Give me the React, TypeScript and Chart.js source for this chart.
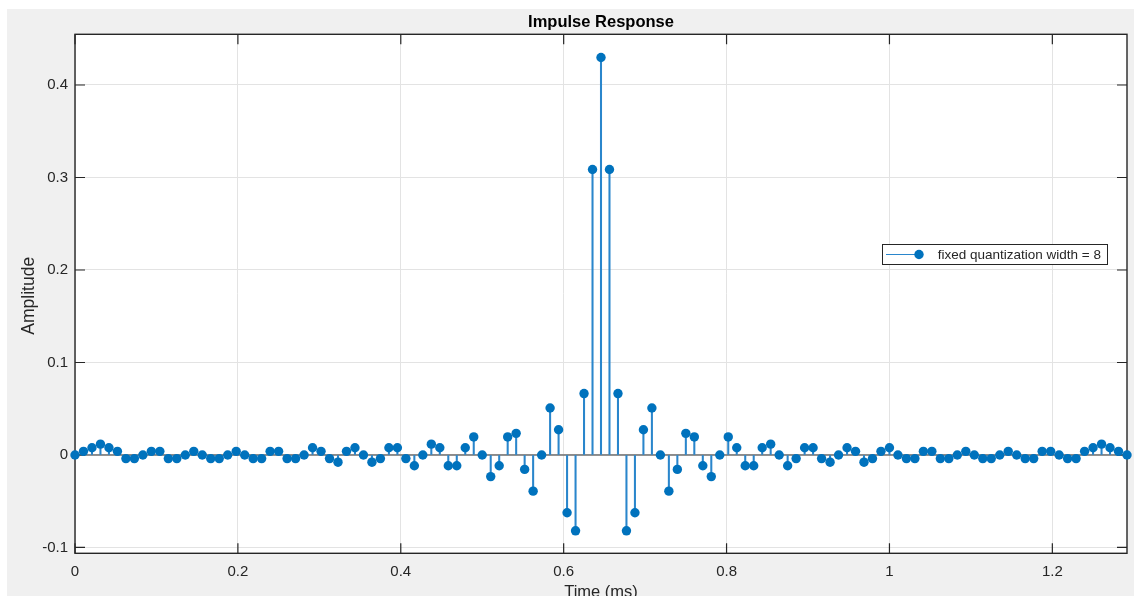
import React, { useEffect, useRef } from "react";
import { Chart, registerables } from "chart.js";

Chart.register(...registerables);

// Sample rate (kHz) -> time axis in ms
const SAMPLE_RATE_KHZ = 96;

// Impulse response amplitudes (quantized filter coefficients), 125 taps
const amplitudes: number[] = [
  0, 0.0039, 0.0078, 0.0117, 0.0078, 0.0039, -0.0039, -0.0039, 0, 0.0039,
  0.0039, -0.0039, -0.0039, 0, 0.0039, 0, -0.0039, -0.0039, 0, 0.0039,
  0, -0.0039, -0.0039, 0.0039, 0.0039, -0.0039, -0.0039, 0, 0.0078, 0.0039,
  -0.0039, -0.0078, 0.0039, 0.0078, 0, -0.0078, -0.0039, 0.0078, 0.0078, -0.0039,
  -0.0117, 0, 0.0117, 0.0078, -0.0117, -0.0117, 0.0078, 0.0195, 0, -0.0234,
  -0.0117, 0.0195, 0.0234, -0.0156, -0.0391, 0, 0.0508, 0.0273, -0.0625, -0.082,
  0.0664, 0.3086, 0.4297, 0.3086, 0.0664,
  -0.082, -0.0625, 0.0273, 0.0508, 0, -0.0391, -0.0156, 0.0234, 0.0195, -0.0117,
  -0.0234, 0, 0.0195, 0.0078, -0.0117, -0.0117, 0.0078, 0.0117, 0, -0.0117,
  -0.0039, 0.0078, 0.0078, -0.0039, -0.0078, 0, 0.0078, 0.0039, -0.0078, -0.0039,
  0.0039, 0.0078, 0, -0.0039, -0.0039, 0.0039, 0.0039, -0.0039, -0.0039, 0,
  0.0039, 0, -0.0039, -0.0039, 0, 0.0039, 0, -0.0039, -0.0039, 0.0039,
  0.0039, 0, -0.0039, -0.0039, 0.0039, 0.0078, 0.0117, 0.0078, 0.0039, 0,
];

const times: number[] = amplitudes.map((_, i) => i / SAMPLE_RATE_KHZ);

const X_TICKS = [0, 0.2, 0.4, 0.6, 0.8, 1, 1.2];
const Y_TICKS = [-0.1, 0, 0.1, 0.2, 0.3, 0.4];
const X_MIN = 0;
const X_MAX = (amplitudes.length - 1) / SAMPLE_RATE_KHZ;
const Y_MIN = -0.1063;
const Y_MAX = 0.4548;

const TITLE = "Impulse Response";
const X_LABEL = "Time (ms)";
const Y_LABEL = "Amplitude";
const SERIES_LABEL = "fixed quantization width = 8";

const FONT = '"Liberation Sans", Arial, Helvetica, sans-serif';
const BLUE = "#0072BD";
const STEM = "#2a86cc";
const AXIS = "#262626";

const fmt = (v: number) => {
  if (Math.abs(v) < 1e-9) return "0";
  return String(Number(v.toFixed(1)));
};

const decor = {
  id: "decor",
  beforeDraw(chart: any) {
    const { ctx, width, height, chartArea: a } = chart;
    ctx.save();
    ctx.fillStyle = "#f0f0f0";
    ctx.fillRect(0, 0, width, height);
    ctx.fillStyle = "#ffffff";
    ctx.fillRect(a.left, a.top, a.right - a.left, a.bottom - a.top);
    ctx.restore();
  },
  beforeDatasetsDraw(chart: any) {
    const { ctx, chartArea: a, scales } = chart;
    const xs = scales.x;
    const ys = scales.y;
    ctx.save();
    // baseline
    const y0 = ys.getPixelForValue(0);
    ctx.strokeStyle = "#6e6e6e";
    ctx.lineWidth = 1.5;
    ctx.beginPath();
    ctx.moveTo(a.left, y0);
    ctx.lineTo(a.right, y0);
    ctx.stroke();
    // box
    ctx.strokeStyle = AXIS;
    ctx.lineWidth = 1.4;
    ctx.strokeRect(a.left, a.top, a.right - a.left, a.bottom - a.top);
    // ticks
    ctx.lineWidth = 1.2;
    ctx.beginPath();
    const TL = 10;
    X_TICKS.forEach((v) => {
      const px = xs.getPixelForValue(v);
      ctx.moveTo(px, a.bottom);
      ctx.lineTo(px, a.bottom - TL);
      ctx.moveTo(px, a.top);
      ctx.lineTo(px, a.top + TL);
    });
    Y_TICKS.forEach((v) => {
      const py = ys.getPixelForValue(v);
      ctx.moveTo(a.left, py);
      ctx.lineTo(a.left + TL, py);
      ctx.moveTo(a.right, py);
      ctx.lineTo(a.right - TL, py);
    });
    ctx.stroke();
    ctx.restore();
  },
  afterDraw(chart: any) {
    const { ctx, chartArea: a } = chart;
    ctx.save();
    // title
    ctx.fillStyle = "#000";
    ctx.font = `bold 16.5px ${FONT}`;
    ctx.textAlign = "center";
    ctx.textBaseline = "alphabetic";
    ctx.fillText(TITLE, (a.left + a.right) / 2, 18.3);
    // x label
    ctx.fillStyle = AXIS;
    ctx.font = `16.5px ${FONT}`;
    ctx.fillText(X_LABEL, (a.left + a.right) / 2, 588);
    // y label
    ctx.save();
    ctx.translate(27.3, (a.top + a.bottom) / 2 + 2);
    ctx.rotate(-Math.PI / 2);
    ctx.textAlign = "center";
    ctx.textBaseline = "alphabetic";
    ctx.font = `17.5px ${FONT}`;
    ctx.fillText(Y_LABEL, 0, 0);
    ctx.restore();
    // legend
    const lx0 = 875, ly0 = 235, lx1 = 1101, ly1 = 256;
    const lyc = (ly0 + ly1) / 2;
    ctx.fillStyle = "#fff";
    ctx.fillRect(lx0, ly0, lx1 - lx0, ly1 - ly0);
    ctx.strokeStyle = AXIS;
    ctx.lineWidth = 1;
    ctx.strokeRect(lx0 + 0.5, ly0 + 0.5, lx1 - lx0 - 1, ly1 - ly0 - 1);
    ctx.strokeStyle = STEM;
    ctx.lineWidth = 1.2;
    ctx.beginPath();
    ctx.moveTo(879, lyc);
    ctx.lineTo(912, lyc);
    ctx.stroke();
    ctx.fillStyle = BLUE;
    ctx.beginPath();
    ctx.arc(912, lyc, 4.7, 0, Math.PI * 2);
    ctx.fill();
    ctx.fillStyle = AXIS;
    ctx.font = `13.5px ${FONT}`;
    ctx.textAlign = "left";
    ctx.textBaseline = "middle";
    ctx.fillText(SERIES_LABEL, 930.7, lyc + 0.5);
    ctx.restore();
  },
};

export default function App() {
  const ref = useRef<HTMLCanvasElement | null>(null);
  useEffect(() => {
    if (!ref.current) return;
    const points = times.map((t, i) => ({ x: t, y: amplitudes[i] }));
    const chart = new Chart(ref.current, {
      type: "bar",
      data: {
        datasets: [
          {
            type: "line",
            label: SERIES_LABEL,
            data: points,
            showLine: false,
            pointRadius: 4.7,
            pointBackgroundColor: BLUE,
            pointBorderColor: BLUE,
            pointBorderWidth: 0,
            clip: false as any,
            order: 0,
          } as any,
          {
            type: "bar",
            label: "stems",
            data: points,
            backgroundColor: STEM,
            barThickness: 1.4,
            borderWidth: 0,
            clip: false as any,
            order: 1,
          } as any,
        ],
      },
      options: {
        animation: false,
        responsive: false,
        events: [],
        layout: { padding: { left: 0, right: 7, top: 25.3, bottom: 0 } },
        plugins: {
          legend: { display: false },
          tooltip: { enabled: false },
          title: { display: false },
        },
        scales: {
          x: {
            type: "linear",
            min: X_MIN,
            max: X_MAX,
            offset: false,
            afterBuildTicks: (s: any) => {
              s.ticks = X_TICKS.map((v) => ({ value: v }));
            },
            afterFit: (s: any) => {
              s.height = 42.7;
            },
            grid: { color: "#e3e3e3", lineWidth: 1, drawTicks: false, offset: false },
            border: { display: false },
            ticks: {
              padding: 10,
              color: AXIS,
              font: { family: FONT, size: 15 },
              autoSkip: false,
              maxRotation: 0,
              callback: (v: any) => fmt(Number(v)),
            },
          },
          y: {
            type: "linear",
            min: Y_MIN,
            max: Y_MAX,
            afterBuildTicks: (s: any) => {
              s.ticks = Y_TICKS.map((v) => ({ value: v }));
            },
            afterFit: (s: any) => {
              s.width = 68;
            },
            grid: { color: "#e3e3e3", lineWidth: 1, drawTicks: false },
            border: { display: false },
            ticks: {
              padding: 7,
              color: AXIS,
              font: { family: FONT, size: 15 },
              autoSkip: false,
              callback: (v: any) => fmt(Number(v)),
            },
          },
        },
      } as any,
      plugins: [decor],
    });
    return () => chart.destroy();
  }, []);
  return (
    <div style={{ position: "fixed", left: 0, top: 0, width: 1134, height: 596, background: "#fff" }}>
      <div style={{ position: "absolute", left: 7, top: 9, width: 1127, height: 587 }}>
        <canvas ref={ref} width={1127} height={587} style={{ display: "block" }} />
      </div>
    </div>
  );
}
